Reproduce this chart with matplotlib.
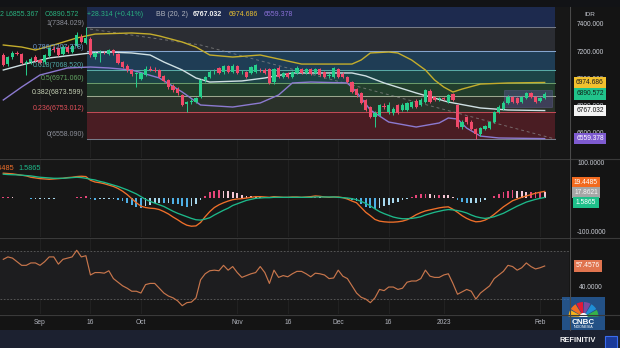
import numpy as np
import matplotlib
matplotlib.use('Agg')
import matplotlib.pyplot as plt
import matplotlib.transforms as mtrans
from matplotlib.patches import Rectangle, Wedge
from matplotlib.lines import Line2D

plt.rcParams['font.family'] = ['Liberation Sans', 'DejaVu Sans']

# ---- daily candles (bar index 0 = late Aug 2022, last = early Feb 2023)
opens = [7178, 7110, 7160, 7193, 7185, 7120, 7125, 7165, 7140, 7125,
         7170, 7225, 7230, 7185, 7237, 7200, 7245, 7311, 7270, 7300,
         7165, 7195, 7200, 7185, 7215, 7185, 7125, 7100, 7070, 7040,
         7000, 7030, 7075, 7070, 7065, 7020, 6990, 6950, 6930, 6885,
         6815, 6830, 6830, 6867, 6990, 7015, 7050, 7082, 7050, 7097,
         7052, 7095, 7050, 7052, 7045, 7052, 7070, 7067, 7074, 6975,
         7082, 7015, 7045, 7015, 7045, 7074, 7045, 7074, 7045, 7074,
         7052, 7020, 7015, 7074, 7040, 7015, 6978, 6925, 6897, 6845,
         6793, 6720, 6735, 6800, 6756, 6750, 6808, 6771, 6771, 6793,
         6838, 6808, 6830, 6915, 6865, 6850, 6860, 6830, 6889, 6808,
         6645, 6719, 6682, 6630, 6590, 6630, 6640, 6682, 6756, 6780,
         6823, 6867, 6860, 6830, 6860, 6897, 6867, 6840, 6862.258]
highs = [7190, 7170, 7205, 7205, 7195, 7140, 7160, 7175, 7150, 7185,
         7240, 7245, 7240, 7250, 7255, 7260, 7350, 7330, 7384.029, 7310,
         7200, 7215, 7210, 7225, 7225, 7190, 7135, 7110, 7078, 7055,
         7055, 7100, 7100, 7090, 7075, 7030, 7000, 6960, 6940, 6890,
         6840, 6855, 6870, 7000, 7025, 7065, 7075, 7090, 7105, 7105,
         7110, 7105, 7070, 7060, 7100, 7115, 7085, 7080, 7085, 7085,
         7095, 7055, 7055, 7060, 7095, 7085, 7085, 7085, 7080, 7085,
         7060, 7045, 7090, 7085, 7050, 7025, 6985, 6935, 6905, 6855,
         6800, 6760, 6815, 6825, 6830, 6790, 6815, 6820, 6830, 6840,
         6850, 6860, 6930, 6925, 6875, 6870, 6870, 6890, 6900, 6815,
         6700, 6730, 6695, 6640, 6645, 6660, 6690, 6765, 6805, 6835,
         6880, 6875, 6870, 6875, 6905, 6905, 6875, 6870, 6905]
lows = [7095, 7100, 7150, 7175, 7110, 7030, 7115, 7125, 7110, 7115,
        7160, 7200, 7170, 7175, 7190, 7190, 7240, 7265, 7260, 7165,
        7150, 7125, 7185, 7175, 7180, 7110, 7080, 7055, 7025, 6940,
        6990, 7020, 7060, 7050, 7005, 6975, 6930, 6905, 6885, 6800,
        6756, 6815, 6820, 6860, 6980, 7005, 7040, 7035, 7040, 7045,
        7045, 7040, 7040, 7005, 7035, 7045, 7055, 7035, 6965, 6965,
        7005, 7005, 7010, 7005, 7040, 7040, 7040, 7030, 7040, 7025,
        7005, 7010, 7005, 7010, 7005, 6970, 6895, 6870, 6815, 6760,
        6710, 6645, 6725, 6780, 6745, 6735, 6740, 6760, 6760, 6785,
        6785, 6800, 6820, 6820, 6835, 6840, 6845, 6820, 6835, 6635,
        6630, 6670, 6620, 6558.090, 6580, 6620, 6630, 6675, 6750, 6770,
        6815, 6820, 6815, 6820, 6850, 6860, 6820, 6832, 6855.367]
closes = [7104, 7160, 7193, 7188, 7120, 7128, 7150, 7135, 7120, 7175,
          7230, 7212, 7180, 7237, 7200, 7245, 7326, 7274, 7304, 7178,
          7195, 7200, 7198, 7215, 7190, 7120, 7090, 7067, 7037, 7045,
          7045, 7075, 7070, 7060, 7015, 6986, 6941, 6919, 6897, 6808,
          6830, 6840, 6860, 6993, 7015, 7052, 7055, 7045, 7097, 7052,
          7097, 7045, 7055, 7015, 7089, 7104, 7065, 7045, 6971, 7074,
          7015, 7045, 7015, 7052, 7082, 7045, 7074, 7037, 7074, 7030,
          7015, 7030, 7082, 7015, 7015, 6978, 6904, 6882, 6823, 6771,
          6719, 6750, 6808, 6793, 6808, 6778, 6749, 6808, 6823, 6830,
          6793, 6845, 6919, 6830, 6845, 6860, 6855, 6882, 6845, 6645,
          6682, 6682, 6630, 6590, 6637, 6650, 6682, 6756, 6795, 6823,
          6867, 6830, 6823, 6867, 6897, 6867, 6830, 6862.258, 6890.572]

# ---- Bollinger Bands (20, 2), read at selected bars
bb_up_idx = [0, 4, 7, 11, 16, 20, 28, 32, 34, 39, 42, 45, 50, 56, 61, 65, 76, 78,
             80, 84, 86, 89, 92, 94, 96, 98, 100, 104, 110, 118]
bb_up = [7252, 7237, 7215, 7252, 7304, 7333, 7341, 7333, 7319, 7274, 7237, 7178,
         7163, 7178, 7141, 7111, 7111, 7141, 7193, 7200, 7193, 7141, 7067, 6993,
         6941, 6904, 6926, 6963, 6971, 6974.686]
bb_mid_idx = [0, 4, 10, 19, 23, 28, 32, 35, 39, 42, 45, 52, 57, 63, 76, 79, 83, 90,
              97, 104, 110, 118]
bb_mid = [7067, 7104, 7156, 7193, 7200, 7193, 7178, 7126, 7067, 7008, 6978, 6986,
          7008, 7045, 7045, 7023, 6971, 6897, 6830, 6786, 6771, 6767.032]
bb_lo_idx = [0, 4, 8, 14, 19, 23, 28, 34, 39, 43, 50, 56, 60, 63, 67, 75, 77, 80,
             84, 90, 95, 97, 99, 101, 104, 108, 118]
bb_lo = [6845, 6941, 7030, 7082, 7089, 7082, 7067, 7008, 6904, 6808, 6793, 6823,
         6882, 6971, 6978, 6971, 6904, 6771, 6682, 6645, 6675, 6712, 6704, 6637,
         6578, 6564, 6559.378]

# ---- Fibonacci retracement
fib_high, fib_low = 7384.029, 6558.090
fib_ratios = [1, 0.786, 0.618, 0.5, 0.382, 0.236, 0]

# ---- MACD
macd = [73, 72, 71, 69, 67, 65, 61, 59, 57, 56,
        55, 56, 57, 58, 60, 61, 63, 64, 63, 52,
        47, 45, 42, 38, 34, 28, 20, 10, -2, -14,
        -24, -28, -30, -31, -34, -40, -47, -56, -64, -73,
        -80, -83, -82, -72, -55, -40, -28, -20, -14, -9,
        -5, -3, -2, 0, 2, 4, 4, 3, 2, 4,
        3, 2, 2, 3, 3, 2, 3, 4, 6, 5,
        3, 2, 3, 3, 1, -3, -9, -14, -28, -42,
        -52, -63, -68, -70, -71, -71, -70, -68, -64, -57,
        -49, -43, -38, -35, -32, -29, -27, -26, -33, -42,
        -52, -60, -66, -70, -69, -65, -58, -48, -37, -26,
        -17, -8, -3, 2, 6, 10, 14, 17, 19.4485]
signal = [70, 69, 68.5, 68, 67, 66, 65, 63, 61, 60,
          59, 58, 58, 58, 59, 60, 61, 60, 58, 55,
          53, 49, 46, 42, 38, 34, 29, 24, 18, 12,
          4, -4, -10, -15, -20, -25, -32, -39, -45, -50,
          -55, -60, -64, -65, -62, -58, -50, -43, -36, -30,
          -22, -17, -12, -7, -4, -1, 0, 1, 1, 2,
          2, 2, 2, 2, 2, 2, 2, 2, 3, 3,
          3, 3, 3, 2, 1, 0, -2, -5, -10, -16,
          -23, -32, -40, -46, -51, -56, -59, -61, -61, -60,
          -58, -55, -50, -46, -42, -39, -36, -34, -35, -37,
          -40, -44, -50, -55, -58, -60, -58, -55, -50, -45,
          -38, -31, -24, -18, -12, -8, -4, -1, 1.5865]

# ---- RSI
rsi = [63, 65, 64, 61, 58, 58, 60, 60, 58, 61,
       65, 65, 59, 63, 64, 65, 70.5, 65, 66, 50,
       52, 52, 51.5, 53.5, 47, 44, 41, 39, 36.5, 36.5,
       35, 42, 43, 43, 39, 35, 32.5, 31, 28.5, 24.5,
       27, 27.5, 31, 46, 51, 53.5, 54, 53.5, 58, 54,
       57, 52, 48, 49.5, 51, 52, 57, 52, 43, 54,
       48, 49.5, 48.5, 51, 53, 53, 51, 48.5, 51.5, 51,
       50, 47, 47.5, 54, 49, 47, 41, 35, 31.5, 30,
       27, 31, 38, 37, 40, 40, 38, 39, 44, 45,
       45, 47, 54, 49, 48, 48, 50, 51, 43, 34,
       36, 38, 36.5, 30, 35, 38, 41, 47, 50, 53,
       58, 57, 54, 56, 60, 57, 55, 56, 57.4576]

tick_pos = [8, 19, 30, 51, 62, 73, 84, 96, 117]
tick_labels = ['Sep', '16', 'Oct', 'Nov', '16', 'Dec', '16', '2023', 'Feb']
price_ticks = [7400, 7200, 7000, 6800, 6600]

# ---------------------------------------------------------------- layout
W, H = 620, 348
BG = '#171717'
GREEN, RED = '#26cf8c', '#f04a6a'
TXT = '#c9ccd4'
FS = 4.8

def fx(px):
    return px / W

def fy(py):
    return 1 - py / H

fig = plt.figure(figsize=(6.2, 3.48), dpi=100)
fig.patch.set_facecolor('#141414')

AXR = 569
XL = (-0.72, 123.3)
ax = fig.add_axes([0, fy(158), fx(AXR), fy(7) - fy(158)])
ax_m = fig.add_axes([0, fy(237), fx(AXR), fy(159) - fy(237)])
ax_r = fig.add_axes([0, fy(314), fx(AXR), fy(238) - fy(314)])
for a in (ax, ax_m, ax_r):
    a.set_facecolor(BG)
    a.set_xlim(*XL)
    for s in a.spines.values():
        s.set_visible(False)
    a.set_yticks([])
    for t in tick_pos:
        a.axvline(t, color='#232323', lw=0.6, zorder=0)
ax.set_xticks([])
ax_m.set_xticks([])

# ---------------------------------------------------------------- main panel
ax.set_ylim(6415.8, 7533.2)
levels = [fib_low + r * (fib_high - fib_low) for r in fib_ratios]
fx0, fx1 = 18.3, 120.3
band_cols = ['#2b2d33', '#1f3d55', '#1c4446', '#223e2c', '#2a3129', '#4a1d23']
ax.add_patch(Rectangle((fx0, levels[0]), fx1 - fx0, 7533.2 - levels[0],
                       fc='#1d2a4e', ec='none', zorder=1))
for k in range(6):
    ax.add_patch(Rectangle((fx0, levels[k + 1]), fx1 - fx0, levels[k] - levels[k + 1],
                           fc=band_cols[k], ec='none', zorder=1))
line_cols = ['#767b88', '#86a6cf', '#58aaa5', '#6a9b6a', '#9aa78e', '#c04a55', '#767b88']
lab_cols = ['#8c8f99', '#6f9bd1', '#4fa8a8', '#62a562', '#c4cfb4', '#e0505a', '#8c8f99']
for r, v, lc, tc in zip(fib_ratios, levels, line_cols, lab_cols):
    ax.plot([fx0, fx1], [v, v], color=lc, lw=0.75, zorder=2)
    ax.text(17.6, v + 4, '%g(%.3f)' % (r, v), color=tc, fontsize=5,
            ha='right', va='bottom', zorder=6)

# dashed trend line and range box
ax.plot([18.9, 43, 76, 120.3], [7370, 7252, 6956, 6556], color='#8a8a8a',
        lw=0.7, ls=(0, (3, 3)), alpha=0.7, zorder=3)
ax.add_patch(Rectangle((109.2, 6793), 10.4, 126, fc='#6f62c8', ec='#8e84d8',
                       lw=0.5, alpha=0.3, zorder=3))

ax.plot(bb_up_idx, bb_up, color='#c4ad2c', lw=1.0, zorder=3)
ax.plot(bb_mid_idx, bb_mid, color='#cfe0e3', lw=1.0, zorder=3)
ax.plot(bb_lo_idx, bb_lo, color='#8c7ad0', lw=1.0, zorder=3)

x = np.arange(len(closes))
o, c = np.array(opens), np.array(closes)
hi, lo = np.array(highs), np.array(lows)
col = np.where(c >= o, GREEN, RED)
ax.vlines(x, lo, hi, colors=col, lw=0.7, zorder=4)
ax.bar(x, np.maximum(np.abs(c - o), 4), bottom=np.minimum(o, c), width=0.7,
       color=col, lw=0, zorder=5)

# ---------------------------------------------------------------- MACD panel
ax_m.set_ylim(-114.7, 114.7)
hist = np.array(macd) - np.array(signal)
prev = np.r_[hist[0], hist[:-1]]
hcol = []
for hv, pv in zip(hist, prev):
    if hv >= 0:
        hcol.append('#e8457a' if hv >= pv else '#f3c6d4')
    else:
        hcol.append('#4fb0e6' if hv < pv else '#a8d8ee')
ax_m.bar(x, hist, width=0.38, color=hcol, lw=0, zorder=2)
ax_m.plot(x, macd, color='#f0702a', lw=0.95, zorder=3)
ax_m.plot(x, signal, color='#1db98a', lw=0.95, zorder=3)

# ---------------------------------------------------------------- RSI panel
ax_r.set_ylim(17.6, 80.7)
ax_r.axhspan(30, 70, color='#1d1d1f', zorder=0)
for lv in (70, 30):
    ax_r.axhline(lv, color='#5e5e5e', lw=0.6, ls=(0, (2, 2)), zorder=1)
ax_r.plot(x, rsi, color='#c8764c', lw=0.85, zorder=3)
ax_r.set_xticks(tick_pos)
ax_r.set_xticklabels(tick_labels)
ax_r.tick_params(axis='x', length=0, pad=3.5, labelsize=FS, labelcolor='#b2b5be')

# ---------------------------------------------------------------- chrome
fig.add_artist(Rectangle((0, fy(7)), 1, 7 / H, transform=fig.transFigure,
                         fc='#121316', ec='none'))
fig.add_artist(Rectangle((0, 0), 1, 18 / H, transform=fig.transFigure,
                         fc='#1c2130', ec='none'))
for yy in (158.5, 237.5, 314.5):
    fig.add_artist(Line2D([0, 1], [fy(yy), fy(yy)], transform=fig.transFigure,
                          color='#3a3a3a', lw=0.8))
fig.add_artist(Line2D([fx(569.5), fx(569.5)], [fy(330), fy(7)],
                      transform=fig.transFigure, color='#4a4a4a', lw=0.8))

# header
hy = fy(15)
hdr = [(0, '2', '#2ab07f'), (5, 'L6855.367', '#2ab07f'), (45, 'C6890.572', '#2ab07f'),
       (87, '+28.314 (+0.41%)', '#2ab07f'), (156, 'BB (20, 2)', '#b2b5be'),
       (193, '6767.032', '#f2f2f2'), (229, '6974.686', '#e9c131'),
       (264, '6559.378', '#8a70d6')]
for px, s, cl in hdr:
    fig.text(fx(px), hy, s, color=cl, fontsize=5, ha='left', va='center',
             fontweight='bold' if s == '6767.032' else 'normal')

# price scale
tr = mtrans.blended_transform_factory(fig.transFigure, ax.transData)
fig.text(fx(590), fy(14), 'IDR', color=TXT, fontsize=4.6, ha='center', va='center')
for p in price_ticks:
    ax.text(fx(590), p, '%.3f' % p, transform=tr, color=TXT, fontsize=FS,
            ha='center', va='center', zorder=7)
tags = [(6974.686, '#f2c12e', '#1a1a1a'), (6890.572, '#21c38b', '#10231a'),
        (6767.032, '#f4f4f4', '#111111'), (6559.378, '#7e5bd0', '#ffffff')]
for v, fc, tc in tags:
    ax.text(fx(590), v, '%.3f' % v, transform=tr, color=tc, fontsize=FS,
            ha='center', va='center', zorder=8,
            bbox=dict(boxstyle='square,pad=0.35', fc=fc, ec='none'))

trm = mtrans.blended_transform_factory(fig.transFigure, ax_m.transData)
for v in (100, -100):
    ax_m.text(fx(591), v, '%.4f' % v, transform=trm, color=TXT, fontsize=FS,
              ha='center', va='center')
for py, s, fc, tc in [(182.5, '19.4485', '#f26a1f', '#ffffff'),
                      (192.5, '17.8621', '#a6a6a6', '#f4f4f4'),
                      (202.5, '1.5865', '#1ec08a', '#ffffff')]:
    fig.text(fx(586), fy(py), s, color=tc, fontsize=FS, ha='center', va='center',
             bbox=dict(boxstyle='square,pad=0.35', fc=fc, ec='none'))
fig.text(fx(14), fy(169), '19.4485', color='#f0702a', fontsize=5.2, ha='right', va='center')
fig.text(fx(18), fy(169), '1.5865', color='#1db98a', fontsize=5.2, ha='left', va='center')

trr = mtrans.blended_transform_factory(fig.transFigure, ax_r.transData)
ax_r.text(fx(591), 40, '40.0000', color=TXT, fontsize=FS, ha='center', va='center',
          transform=trr)
ax_r.text(fx(588), 57.4576, '57.4576', color='#ffffff', fontsize=FS, ha='center',
          va='center', transform=trr,
          bbox=dict(boxstyle='square,pad=0.35', fc='#e0744f', ec='none'))

# CNBC logo
lg = fig.add_axes([fx(562), fy(331), fx(43), fy(297) - fy(331)])
lg.set_xlim(0, 43)
lg.set_ylim(0, 34)
lg.axis('off')
lg.add_patch(Rectangle((0, 0), 43, 34, fc='#2a6cb8', ec='none', alpha=0.7))
fan = ['#f7b21b', '#f36f21', '#e31937', '#7c4a9e', '#1f8fd6', '#36b24a']
for k, fc in enumerate(fan):
    lg.add_patch(Wedge((21.5, 14), 15, 180 - (k + 1) * 30 + 2, 180 - k * 30 - 2,
                       fc=fc, ec='none'))
lg.add_patch(Wedge((21.5, 14), 4, 0, 180, fc='white', ec='none'))
lg.text(21.5, 8.5, 'CNBC', color='white', fontsize=5.8, fontweight='bold',
        ha='center', va='center')
lg.text(21.5, 3.5, 'INDONESIA', color='white', fontsize=2.6, ha='center', va='center')

fig.text(fx(578), fy(341), 'REFINITIV', color='#f2f2f2', fontsize=5.4,
         fontweight='bold', ha='center', va='center')
fig.add_artist(Rectangle((fx(605), fy(348)), fx(12), 12 / H, transform=fig.transFigure,
                         fc='#1a3a9a', ec='#3b6cf0', lw=0.8))

fig.savefig('out.png', dpi=100, facecolor=fig.get_facecolor())
